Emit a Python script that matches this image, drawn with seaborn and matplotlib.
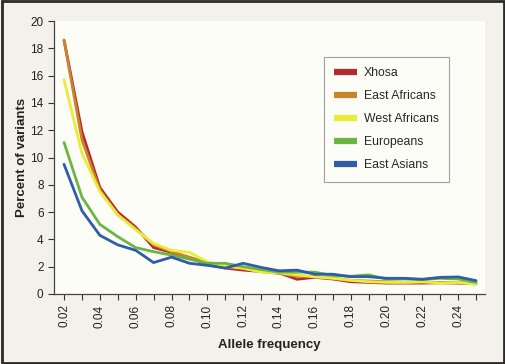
import matplotlib
matplotlib.use("Agg")
import matplotlib.pyplot as plt
import seaborn as sns
import pandas as pd
import numpy as np
from matplotlib.patches import Rectangle
from matplotlib.ticker import MultipleLocator, FixedLocator

freq = [0.02, 0.03, 0.04, 0.05, 0.06, 0.07, 0.08, 0.09, 0.10, 0.11, 0.12, 0.13,
        0.14, 0.15, 0.16, 0.17, 0.18, 0.19, 0.20, 0.21, 0.22, 0.23, 0.24, 0.25]
xhosa = [18.6, 11.9, 7.8, 6.0, 4.9, 3.4, 3.05, 2.65, 2.2, 1.9, 1.75, 1.65,
         1.55, 1.08, 1.22, 1.1, 0.9, 0.85, 0.8, 0.8, 0.8, 0.82, 0.8, 0.75]
east_africans = [18.6, 11.3, 7.6, 5.8, 4.8, 3.6, 3.1, 2.7, 2.3, 2.0, 1.85, 1.65,
                 1.5, 1.3, 1.3, 1.15, 1.0, 0.95, 0.9, 0.85, 0.85, 0.85, 0.85, 0.75]
west_africans = [15.7, 10.3, 7.5, 5.8, 4.7, 3.7, 3.2, 3.05, 2.35, 2.05, 1.9, 1.6,
                 1.55, 1.4, 1.25, 1.15, 1.0, 0.9, 0.85, 0.85, 0.9, 0.8, 0.85, 0.7]
europeans = [11.1, 7.1, 5.1, 4.2, 3.4, 3.1, 2.85, 2.55, 2.25, 2.25, 2.0, 1.8,
             1.6, 1.6, 1.6, 1.35, 1.3, 1.4, 1.1, 1.1, 1.05, 1.15, 1.1, 0.85]
east_asians = [9.5, 6.1, 4.3, 3.6, 3.2, 2.3, 2.7, 2.25, 2.1, 1.9, 2.25, 1.95,
               1.7, 1.75, 1.45, 1.45, 1.27, 1.27, 1.15, 1.15, 1.08, 1.22, 1.25, 0.98]
groups = ["Xhosa", "East Africans", "West Africans", "Europeans", "East Asians"]
series = [xhosa, east_africans, west_africans, europeans, east_asians]
colors = ["#b42a2e", "#c9842c", "#e9ec3a", "#6cb545", "#2f5da8"]
xtick_labels = ["0.02", "0.04", "0.06", "0.08", "0.10", "0.12",
                "0.14", "0.16", "0.18", "0.20", "0.22", "0.24"]

df = pd.concat([pd.DataFrame({"freq": freq, "pct": s, "group": g})
                for g, s in zip(groups, series)], ignore_index=True)

sns.set_theme(style="ticks")
plt.rcParams['font.family'] = ['Liberation Sans', 'DejaVu Sans']

fig = plt.figure(figsize=(5.06, 3.64), dpi=100)
fig.patch.set_facecolor("#f3f1e9")
ax = fig.add_axes([54/506, 1-294/364, (485-54)/506, (294-21)/364])
ax.set_facecolor("#fdfdf8")

sns.lineplot(data=df, x="freq", y="pct", hue="group", hue_order=groups,
             palette=colors, linewidth=2.0, ax=ax)

ax.set_xlim(0.0144, 0.255)
ax.set_ylim(0, 20)
ax.yaxis.set_major_locator(MultipleLocator(2))
ax.xaxis.set_major_locator(FixedLocator([float(t) for t in xtick_labels]))
ax.set_xticklabels(xtick_labels, rotation=90)
ax.xaxis.set_minor_locator(FixedLocator(freq))
ax.tick_params(axis="both", which="both", direction="out", colors="#333333",
               labelcolor="#222222", labelsize=8.5, width=0.8)
ax.tick_params(axis="both", which="major", length=4)
ax.tick_params(axis="x", which="minor", length=4)
for s in ["top", "right"]:
    ax.spines[s].set_visible(False)
for s in ["left", "bottom"]:
    ax.spines[s].set_color("#444444")
    ax.spines[s].set_linewidth(0.9)

ax.set_xlabel("Allele frequency", fontsize=9.5, fontweight="bold", color="#222222", labelpad=8)
ax.set_ylabel("Percent of variants", fontsize=9.5, fontweight="bold", color="#222222", labelpad=2)

leg = ax.legend(loc="upper left", bbox_to_anchor=(0.626, 0.868), frameon=True,
                fancybox=False, fontsize=8.8, handlelength=1.9, handletextpad=0.5,
                labelspacing=0.9, borderpad=0.85, borderaxespad=0)
leg.get_frame().set_edgecolor("#888888")
leg.get_frame().set_facecolor("#fdfdf8")
leg.get_frame().set_linewidth(0.8)
for line in leg.get_lines():
    line.set_linewidth(4.5)
    line.set_solid_capstyle("butt")

fig.add_artist(Rectangle((0.003, 0.004), 0.994, 0.992, transform=fig.transFigure,
                         fill=False, edgecolor="#2a2a2a", linewidth=2))

fig.savefig("out.png", dpi=100, facecolor=fig.get_facecolor())
